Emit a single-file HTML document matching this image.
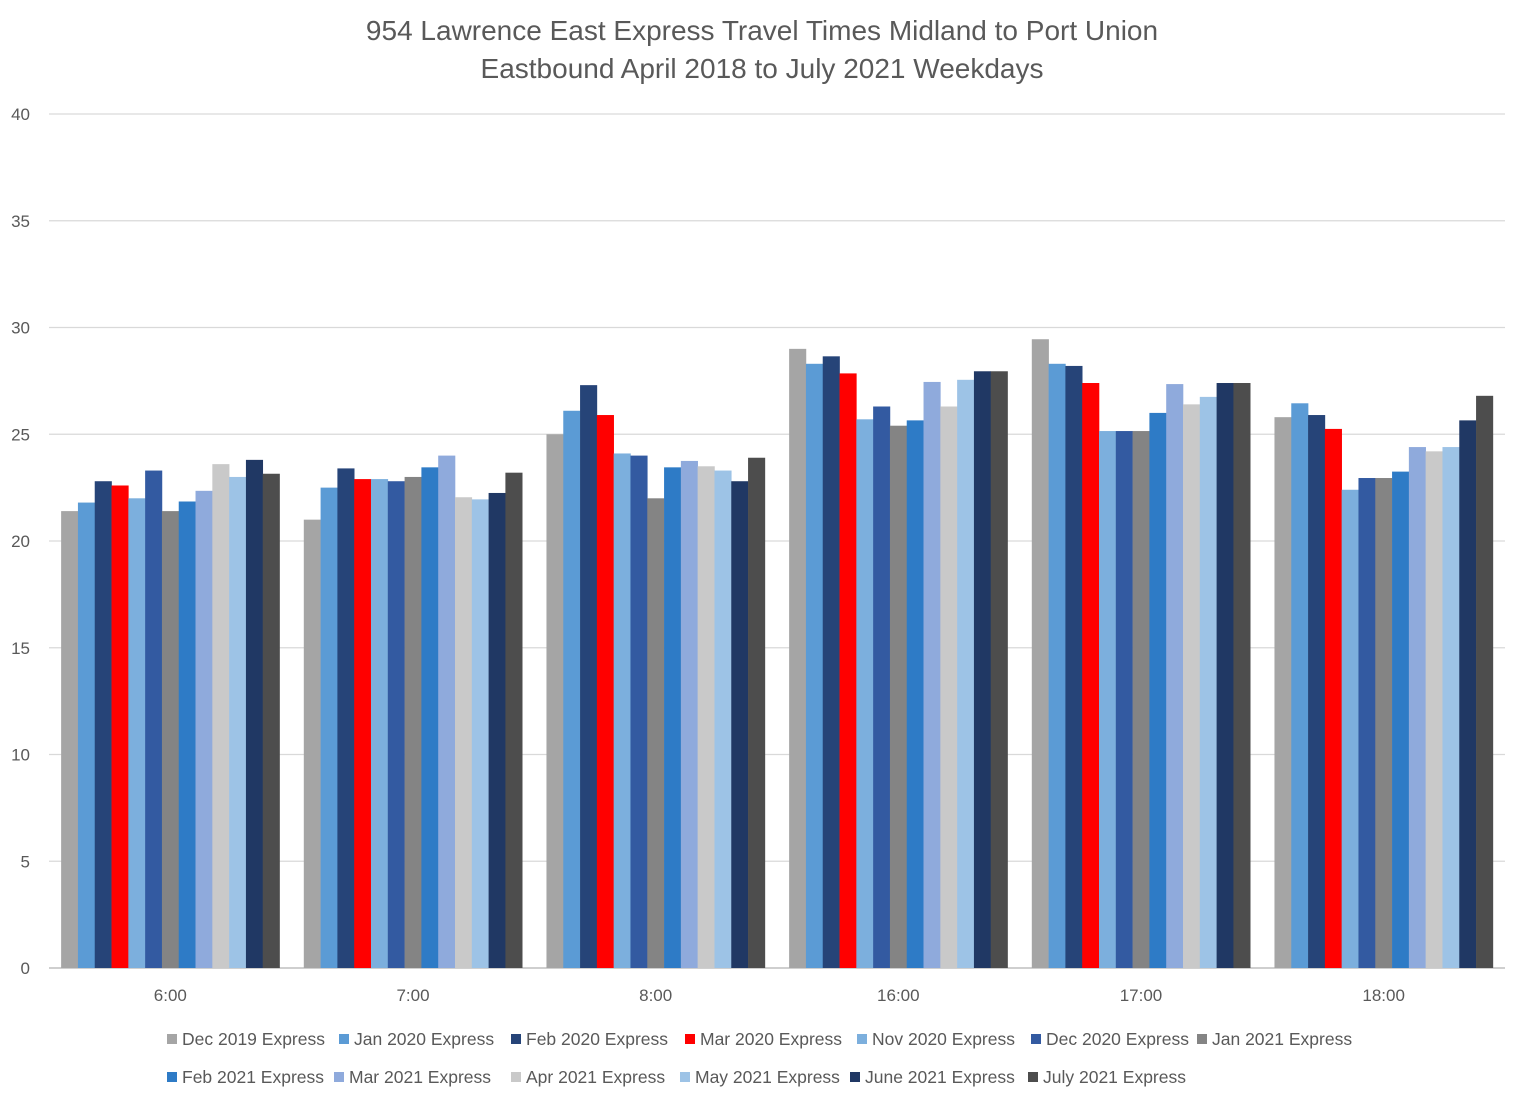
<!DOCTYPE html>
<html><head><meta charset="utf-8"><style>
body{margin:0;background:#fff;}
svg{display:block;font-family:"Liberation Sans",Calibri,sans-serif;}
</style></head><body>
<svg id="chart" width="1517" height="1095">
<text x="762" y="40" text-anchor="middle" font-size="28" fill="#595959">954 Lawrence East Express Travel Times Midland to Port Union</text>
<text x="762" y="78" text-anchor="middle" font-size="28" fill="#595959">Eastbound April 2018 to July 2021 Weekdays</text>
<g id="grid"></g><g id="bars"></g><g id="xlabels"></g><g id="legend"></g>
</svg>
<script>
const categories=["6:00","7:00","8:00","16:00","17:00","18:00"];
const seriesNames=["Dec 2019 Express","Jan 2020 Express","Feb 2020 Express","Mar 2020 Express","Nov 2020 Express","Dec 2020 Express","Jan 2021 Express","Feb 2021 Express","Mar 2021 Express","Apr 2021 Express","May 2021 Express","June 2021 Express","July 2021 Express"];
const seriesColors=["#a5a5a5","#5b9bd5","#264478","#ff0000","#7cafdd","#335aa1","#848484","#2e7bc6","#8faadc","#c9c9c9","#9dc3e6","#203864","#4d4d4d"];
const dec19=[21.4,21.0,25.0,29.0,29.45,25.8];
const jan20=[21.8,22.5,26.1,28.3,28.3,26.45];
const feb20=[22.8,23.4,27.3,28.65,28.2,25.9];
const mar20=[22.6,22.9,25.9,27.85,27.4,25.25];
const nov20=[22.0,22.9,24.1,25.7,25.15,22.4];
const dec20=[23.3,22.8,24.0,26.3,25.15,22.95];
const jan21=[21.4,23.0,22.0,25.4,25.15,22.95];
const feb21=[21.85,23.45,23.45,25.65,26.0,23.25];
const mar21=[22.35,24.0,23.75,27.45,27.35,24.4];
const apr21=[23.6,22.05,23.5,26.3,26.4,24.2];
const may21=[23.0,21.95,23.3,27.55,26.75,24.4];
const jun21=[23.8,22.25,22.8,27.95,27.4,25.65];
const jul21=[23.15,23.2,23.9,27.95,27.4,26.8];
const series=[dec19,jan20,feb20,mar20,nov20,dec20,jan21,feb21,mar21,apr21,may21,jun21,jul21];
const yTicks=[0,5,10,15,20,25,30,35,40];
const NS="http://www.w3.org/2000/svg";
const x0=49,x1=1505,yBase=968,yTop=114,yMax=40;
const y=v=>yBase-(yBase-yTop)*v/yMax;
const catW=(x1-x0)/categories.length, barW=16.8, groupW=barW*series.length;
function mk(tag,attrs,parent){const e=document.createElementNS(NS,tag);for(const k in attrs)e.setAttribute(k,attrs[k]);parent.appendChild(e);return e;}
const grid=document.getElementById('grid');
yTicks.forEach(t=>{
  const l=mk('line',{x1:x0,x2:x1,y1:y(t),y2:y(t),stroke:t===0?'#bfbfbf':'#d9d9d9','stroke-width':t===0?1.5:1.3},grid);
  
  
  const tx=mk('text',{x:30,y:y(t)+6,'text-anchor':'end','font-size':17,fill:'#595959'},grid);
  tx.textContent=t;
  
  
});
const bars=document.getElementById('bars'),xl=document.getElementById('xlabels');
categories.forEach((c,i)=>{
  const cx=x0+catW*(i+0.5), start=cx-groupW/2;
  series.forEach((s,j)=>{
    const r=mk('rect',{x:start+j*barW,y:y(s[i]),width:barW+0.3,height:yBase-y(s[i]),fill:seriesColors[j]},bars);
    
    
  });
  const t=mk('text',{x:cx,y:1001,'text-anchor':'middle','font-size':17,fill:'#595959'},xl);
  t.textContent=c;
  
  
});
const lg=document.getElementById('legend');
const legendX=[167,339,511,685,857,1031,1197,167,334,511,680,850,1028];
seriesNames.forEach((n,j)=>{
  const ly=j<7?1039:1077, x=legendX[j];
  const g=mk('g',{},lg);
  
  
  mk('rect',{x:x,y:ly-5,width:10,height:10,fill:seriesColors[j]},g);
  const t=mk('text',{x:x+15,y:ly+6,'font-size':17.5,fill:'#595959'},g);
  t.textContent=n;
});
</script>
</body></html>
